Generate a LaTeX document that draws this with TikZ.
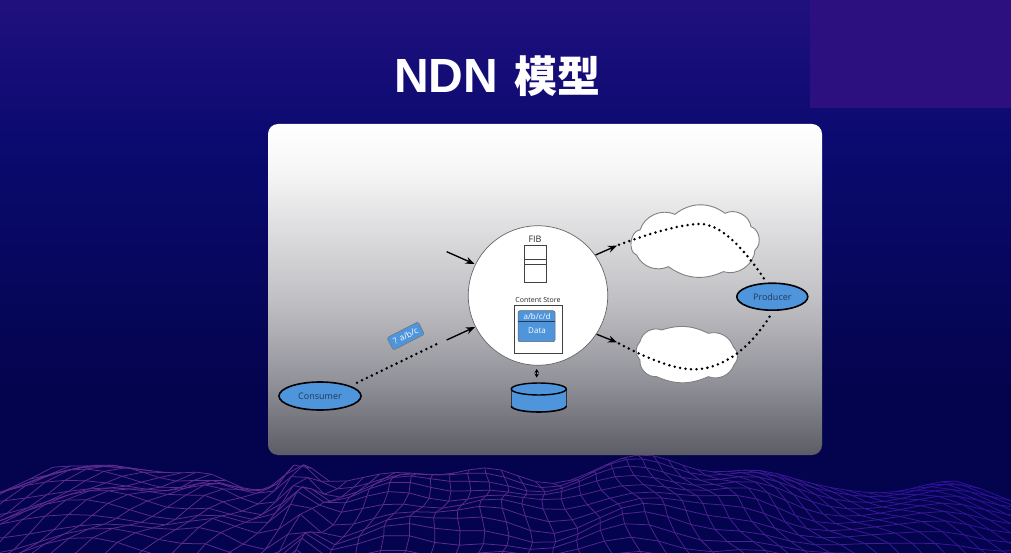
\documentclass[tikz,border=0pt]{standalone}
\usepackage{fontspec}
\setmainfont{Open Sans}
\newfontfamily\cjk{Noto Sans CJK SC}
\newfontfamily\latinhead{Liberation Sans}
\usetikzlibrary{shapes.geometric,arrows.meta,calc}
\definecolor{bgTop}{HTML}{20107E}
\definecolor{bgMid}{HTML}{0A0A70}
\definecolor{bgLow}{HTML}{04044E}
\definecolor{corner}{HTML}{2C1080}
\definecolor{nodeBlue}{HTML}{4F95DC}
\definecolor{labelInk}{HTML}{24385C}
\definecolor{meshA}{HTML}{5E2C90}
\definecolor{meshB}{HTML}{30129A}
\definecolor{cardA}{HTML}{FFFFFF}
\definecolor{cardB}{HTML}{F6F6F6}
\definecolor{cardC}{HTML}{C0C0C4}
\definecolor{cardD}{HTML}{92929A}
\definecolor{cardE}{HTML}{5C5C66}
\pgfdeclareverticalshading{slidebg}{100bp}{color(0bp)=(bgLow); color(25bp)=(bgLow); color(40bp)=(bgLow); color(62bp)=(bgMid); color(75bp)=(bgTop); color(100bp)=(bgTop)}
\pgfdeclareverticalshading{cardbg}{100bp}{color(0bp)=(cardE); color(25bp)=(cardE); color(36.3bp)=(cardD); color(48.4bp)=(cardC); color(68bp)=(cardB); color(75bp)=(cardA); color(100bp)=(cardA)}
\tikzset{
  declare function={
    gs(\p,\q,\r)=exp(-((\p-\q)/\r)*((\p-\q)/\r));
    ridge(\p)=490-27*gs(\p,90,90)-12*gs(\p,210,30)-26*gs(\p,300,20)-20*gs(\p,400,50)-18*gs(\p,490,45)-32*gs(\p,640,70)-18*gs(\p,750,50)-6*gs(\p,950,40);
  },
  meshline/.style={line width=0.75pt},
  endnode/.style={ellipse,draw=black,line width=1.6pt,fill=nodeBlue,text=labelInk,font=\fontsize{9}{10}\selectfont,inner sep=0pt},
  netcloud/.style={draw=black!50,line width=0.9pt,fill=white,line join=round},
  dotline/.style={line width=2.8pt,line cap=round,dash pattern=on 0pt off 5.5pt},
  flow/.style={line width=1.35pt,-{Stealth[length=9pt,width=7pt]}},
  tabletxt/.style={text=black!85,inner sep=0pt},
  bluetxt/.style={text=white,inner sep=0pt,font=\fontsize{8}{9}\selectfont},
  lobe/.style={bend left=#1},
}
\begin{document}
\begin{tikzpicture}[x=1pt,y=-1pt]
\useasboundingbox (0,0) rectangle (1011,553);
\shade[shading=slidebg] (0,0) rectangle (1011,553);
\fill[corner] (810,0) rectangle (1011,108);
% wire mesh
\begin{scope}
\clip (0,0) rectangle (1011,553);
\foreach \u in {0,...,56}{
  \foreach \v in {0,...,13}{
    \pgfmathsetmacro\s{\v/13}
    \pgfmathsetmacro\xb{505+(\u-28)*19*(0.85+0.65*\s)+4*sin(\v*65+\u*23)}
    \pgfmathsetmacro\yb{ridge(max(min(\xb,1100),-100))+112*pow(\s,1.35)+(3+5*\s)*sin(\u*37+\v*58)*(1-0.4*\s)}
    \coordinate (m\u-\v) at (\xb,\yb);
  }
}
\foreach \u in {0,...,56}{
  \pgfmathtruncatemacro\mix{max(0,min(100,100-(\u-26)*100/26))}
  \foreach \v in {0,...,12}{
    \pgfmathtruncatemacro\w{\v+1}
    \draw[meshline,color=meshA!\mix!meshB] (m\u-\v) -- (m\u-\w);
  }
}
\foreach \u in {0,...,55}{
  \pgfmathtruncatemacro\mix{max(0,min(100,100-(\u-26)*100/26))}
  \pgfmathtruncatemacro\n{\u+1}
  \foreach \v in {0,...,13}{
    \draw[meshline,color=meshA!\mix!meshB] (m\u-\v) -- (m\n-\v);
  }
}
\end{scope}
% title
\node[text=white,inner sep=0pt] (title) at (497,76) {\bfseries\fontsize{48}{52}\selectfont{\latinhead NDN}\hspace{16pt}{\cjk\fontsize{43}{52}\selectfont 模型}};
% card
\shade[shading=cardbg,rounded corners=10pt] (268,124) rectangle (822,455);
% router
\node[circle,draw=black!60,line width=0.7pt,fill=white,minimum size=139.5pt,inner sep=0pt] (router) at (538,295.5) {};
\node[tabletxt,font=\fontsize{9}{10}\selectfont] (fiblabel) at (535,239) {FIB};
\node[draw=black!75,line width=0.8pt,fill=white,minimum width=22.4pt,minimum height=37.3pt,inner sep=0pt] (fib) at (535.5,263.6) {};
\node[draw=black!75,line width=0.8pt,fill=white,minimum width=22.4pt,minimum height=4.7pt,inner sep=0pt] (fibrow) at (535.5,261.6) {};
\node[tabletxt,font=\fontsize{7}{8}\selectfont] (cslabel) at (538,300) {Content Store};
\node[draw=black!75,line width=0.9pt,fill=white,minimum width=48.3pt,minimum height=48pt,inner sep=0pt] (cs) at (538.2,329.7) {};
\node[draw=black!60,line width=0.5pt,fill=nodeBlue,rounded corners=2pt,minimum width=37pt,minimum height=31pt,inner sep=0pt] (csdata) at (536.5,326.2) {};
\draw[labelInk,line width=0.6pt] (csdata.west |- 0,321.3) -- (csdata.east |- 0,321.3);
\node[bluetxt] (csname) at (537,316) {a/b/c/d};
\node[bluetxt] (cspayload) at (537,330.5) {Data};
% storage cylinder
\coordinate (dbtop) at (538.8,389);
\coordinate (dbbot) at (538.8,406);
\fill[nodeBlue] ($(dbtop)+(-27.5,0)$) -- ($(dbbot)+(-27.5,0)$) arc[start angle=180,end angle=360,x radius=27.5pt,y radius=6pt] -- ($(dbtop)+(27.5,0)$) -- cycle;
\draw[black,line width=1.6pt] ($(dbbot)+(-27.5,0)$) arc[start angle=180,end angle=360,x radius=27.5pt,y radius=6pt];
\draw[black!80,line width=0.5pt] ($(dbtop)+(-27.5,0)$) -- ($(dbbot)+(-27.5,0)$) ($(dbtop)+(27.5,0)$) -- ($(dbbot)+(27.5,0)$);
\node[ellipse,draw=black,line width=1.4pt,fill=nodeBlue,minimum width=55pt,minimum height=12pt,inner sep=0pt] (db) at (dbtop) {};
\coordinate (rbelow) at (536.7,369);
\coordinate (dbabove) at (536.7,377.6);
\draw[line width=1pt,{Stealth[length=4pt,width=4.5pt]}-{Stealth[length=4pt,width=4.5pt]}] (rbelow) -- (dbabove);
% clouds, in thirds of a pixel from (590,195)
\begin{scope}[shift={(590,195)},x=0.3333pt,y=-0.3333pt]
\draw[netcloud] (150,105) to[lobe=48] (255,58) to[lobe=38] (405,55) to[lobe=55] (483,95) to[lobe=62] (495,165)
  to[lobe=52] (400,230) to[lobe=30] (235,215) to[lobe=45] (140,180) to[lobe=80] cycle;
\draw[netcloud] (150,440) to[lobe=50] (215,405) to[lobe=22] (355,415) to[lobe=42] (430,455) to[lobe=48] (432,510)
  to[lobe=45] (355,545) to[lobe=24] (200,545) to[lobe=50] (150,495) to[lobe=45] cycle;
\end{scope}
% end hosts
\node[endnode,minimum width=82pt,minimum height=28pt] (consumer) at (320,396) {Consumer};
\node[endnode,minimum width=71pt,minimum height=27pt] (producer) at (772.3,296.7) {Producer};
% interest tag
\node[draw=black!55,line width=0.5pt,fill=nodeBlue,rounded corners=1.5pt,rotate=27,minimum width=35pt,minimum height=14pt,inner sep=0pt,bluetxt,font=\fontsize{8.5}{9}\selectfont] (tag) at (405.7,336) {? a/b/c};
% arrows
\coordinate (inA) at (446.7,251.7);
\coordinate (inAend) at (474.5,264);
\coordinate (inB) at (446.7,340);
\coordinate (inBend) at (475,327);
\coordinate (outA) at (595.5,255);
\coordinate (outAend) at (617,245.6);
\coordinate (outB) at (596.7,334.3);
\coordinate (outBend) at (617,342.4);
\draw[flow] (inA) -- (inAend);
\draw[flow] (inB) -- (inBend);
\draw[flow] (outA) -- (outAend);
\draw[flow] (outB) -- (outBend);
% dotted links
\coordinate (conOut) at (357,382.7);
\coordinate (conEnd) at (439.5,342.7);
\draw[dotline] (conOut) -- (conEnd);
\coordinate (pTop) at (766.7,282.5);
\coordinate (pLow) at (770.7,315);
\coordinate (topstart) at (619,244.8);
\coordinate (lowstart) at (619,343.5);
\draw[dotline] (topstart) .. controls (645,235) and (680,224) .. (700,224) .. controls (722,224) and (745,250) .. (pTop);
\draw[dotline] (lowstart) .. controls (650,360) and (675,369) .. (692,369.3) .. controls (725,370) and (752,345) .. (pLow);
\end{tikzpicture}
\end{document}
